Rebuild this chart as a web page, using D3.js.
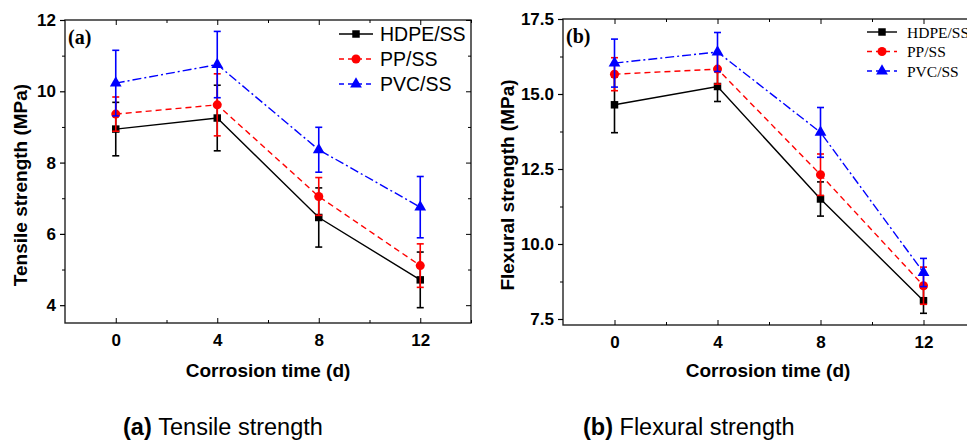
<!DOCTYPE html>
<html>
<head>
<meta charset="utf-8">
<script src="https://cdn.jsdelivr.net/npm/d3@7"></script>
<style>
  body { margin: 0; background: #fff; }
  svg { display: block; font-family: Arial, "Liberation Sans", sans-serif; }
</style>
</head>
<body>
<div id="chart"></div>
<script>
'use strict';

// corrosion time (d)
const days = [0, 4, 8, 12];
const seriesNames = ["HDPE/SS", "PP/SS", "PVC/SS"];

// (a) tensile strength, MPa
const tensileHDPE = [8.94, 9.25, 6.46, 4.71];
const tensileHDPEErr = [0.75, 0.92, 0.83, 0.78];
const tensilePP = [9.36, 9.62, 7.05, 5.11];
const tensilePPErr = [0.48, 0.87, 0.53, 0.61];
const tensilePVC = [10.23, 10.75, 8.36, 6.75];
const tensilePVCErr = [0.92, 0.93, 0.63, 0.86];

// (b) flexural strength, MPa
const flexHDPE = [14.64, 15.25, 11.50, 8.11];
const flexHDPEErr = [0.93, 0.50, 0.57, 0.42];
const flexPP = [15.66, 15.83, 12.31, 8.61];
const flexPPErr = [0.55, 0.50, 0.69, 0.62];
const flexPVC = [16.03, 16.40, 13.72, 9.05];
const flexPVCErr = [0.80, 0.65, 0.83, 0.47];

const xMajor = [0, 4, 8, 12];
const xMinor = [2, 6, 10, 14];
const tensileMajor = [4, 6, 8, 10, 12];
const tensileMinor = [5, 7, 9, 11];
const flexMajor = [7.5, 10, 12.5, 15, 17.5];
const flexMinor = [8.75, 11.25, 13.75, 16.25];

const SANS = "Arial, 'Liberation Sans', sans-serif";
const SERIF = "'Times New Roman', 'Liberation Serif', serif";

const styles = [
    {color: "#000000", dash: null, marker: "square"},
    {color: "#ff0000", dash: "6,4", marker: "circle"},
    {color: "#0000ff", dash: "9,3,2,3", marker: "triangle"}
];

const svg = d3.select("#chart").append("svg")
    .attr("width", 967).attr("height", 440);
svg.append("rect").attr("width", 967).attr("height", 440).attr("fill", "#fff");

function markerPath(kind) {
    if (kind === "square") return d3.symbol(d3.symbolSquare, 56)();
    if (kind === "circle") return d3.symbol(d3.symbolCircle, 64)();
    return d3.symbol(d3.symbolTriangle, 60)();
}

function drawPanel(cfg) {
    const x = d3.scaleLinear().domain([-2, 14]).range(cfg.xRange);
    const y = d3.scaleLinear().domain(cfg.yDomain).range(cfg.yRange);
    const g = svg.append("g");
    const [x0, x1] = cfg.xRange;
    const [y0, y1] = cfg.yRange;

    // frame
    g.append("rect")
        .attr("x", x0).attr("y", y1)
        .attr("width", x1 - x0).attr("height", y0 - y1)
        .attr("fill", "none").attr("stroke", "#222").attr("stroke-width", 1.4);

    // left axis, ticks outside
    const left = g.append("g").attr("transform", `translate(${x0},0)`)
        .call(d3.axisLeft(y).tickValues(cfg.yMajor).tickSize(5).tickPadding(4)
            .tickFormat(cfg.yFormat));
    left.select(".domain").remove();
    left.selectAll("text").attr("font-family", SANS).attr("font-size", 17).attr("font-weight", "bold");
    left.selectAll("line").attr("stroke-width", 1.2);
    g.append("g").attr("transform", `translate(${x0},0)`)
        .call(d3.axisLeft(y).tickValues(cfg.yMinor).tickSize(3).tickFormat(""))
        .call(s => s.select(".domain").remove());

    // right side, ticks inside
    g.append("g").attr("transform", `translate(${x1},0)`)
        .call(d3.axisLeft(y).tickValues(cfg.yMajor).tickSize(5).tickFormat(""))
        .call(s => s.select(".domain").remove());
    g.append("g").attr("transform", `translate(${x1},0)`)
        .call(d3.axisLeft(y).tickValues(cfg.yMinor).tickSize(3).tickFormat(""))
        .call(s => s.select(".domain").remove());

    // bottom axis, ticks inside
    const bottom = g.append("g").attr("transform", `translate(0,${y0})`)
        .call(d3.axisBottom(x).tickValues(xMajor).tickSize(-5).tickPadding(11));
    bottom.select(".domain").remove();
    bottom.selectAll("text").attr("font-family", SANS).attr("font-size", 17).attr("font-weight", "bold");
    g.append("g").attr("transform", `translate(0,${y0})`)
        .call(d3.axisBottom(x).tickValues(xMinor).tickSize(-3).tickFormat(""))
        .call(s => s.select(".domain").remove());

    // top side, ticks inside
    g.append("g").attr("transform", `translate(0,${y1})`)
        .call(d3.axisBottom(x).tickValues(xMajor).tickSize(5).tickFormat(""))
        .call(s => s.select(".domain").remove());
    g.append("g").attr("transform", `translate(0,${y1})`)
        .call(d3.axisBottom(x).tickValues(xMinor).tickSize(3).tickFormat(""))
        .call(s => s.select(".domain").remove());

    // axis titles
    g.append("text")
        .attr("x", cfg.xTitleX).attr("y", 377)
        .attr("text-anchor", "middle").attr("font-size", 19).attr("font-weight", "bold")
        .text("Corrosion time (d)");
    g.append("text")
        .attr("transform", `translate(${cfg.yTitleX},${cfg.yTitleY}) rotate(-90)`)
        .attr("text-anchor", "middle").attr("font-size", 19).attr("font-weight", "bold")
        .text(cfg.yTitle);

    // panel tag
    g.append("text")
        .attr("x", x0 + 3).attr("y", y1 + 24)
        .attr("font-family", SERIF)
        .attr("font-size", 20).attr("font-weight", "bold")
        .text(cfg.tag);

    // series
    const line = d3.line().x(d => x(d.t)).y(d => y(d.v));
    cfg.series.forEach((s, i) => {
        const st = styles[i];
        const pts = days.map((t, k) => ({t, v: s.values[k], e: s.errors[k]}));
        const sg = g.append("g");
        sg.append("path").datum(pts)
            .attr("d", line).attr("fill", "none")
            .attr("stroke", st.color).attr("stroke-width", 1.4)
            .attr("stroke-dasharray", st.dash);
        sg.selectAll(".marker").data(pts).enter().append("path")
            .attr("class", "marker")
            .attr("transform", d => `translate(${x(d.t)},${y(d.v)})`)
            .attr("d", markerPath(st.marker))
            .attr("fill", st.color);
        const eb = sg.selectAll(".err").data(pts).enter().append("g")
            .attr("stroke", st.color).attr("stroke-width", 1.6);
        eb.append("line")
            .attr("x1", d => x(d.t)).attr("x2", d => x(d.t))
            .attr("y1", d => y(d.v - d.e)).attr("y2", d => y(d.v + d.e));
        eb.append("line")
            .attr("x1", d => x(d.t) - 3.5).attr("x2", d => x(d.t) + 3.5)
            .attr("y1", d => y(d.v + d.e)).attr("y2", d => y(d.v + d.e));
        eb.append("line")
            .attr("x1", d => x(d.t) - 3.5).attr("x2", d => x(d.t) + 3.5)
            .attr("y1", d => y(d.v - d.e)).attr("y2", d => y(d.v - d.e));
    });

    // legend
    const lg = g.append("g");
    seriesNames.forEach((name, i) => {
        const st = styles[i];
        const ly = cfg.legend.y + i * cfg.legend.step;
        const lx = cfg.legend.x;
        lg.append("line")
            .attr("x1", lx).attr("x2", lx + cfg.legend.len)
            .attr("y1", ly).attr("y2", ly)
            .attr("stroke", st.color).attr("stroke-width", 1.4)
            .attr("stroke-dasharray", st.dash ? "5,4" : null);
        lg.append("path")
            .attr("transform", `translate(${lx + cfg.legend.len / 2},${ly})`)
            .attr("d", markerPath(st.marker)).attr("fill", st.color);
        lg.append("text")
            .attr("x", lx + cfg.legend.len + cfg.legend.gap).attr("y", ly)
            .attr("dy", "0.36em")
            .attr("font-family", cfg.legend.font)
            .attr("font-size", cfg.legend.size)
            .text(name);
    });

    // caption
    const cap = svg.append("text")
        .attr("x", cfg.captionX).attr("y", 435)
        .attr("font-family", SANS)
        .attr("font-size", 23.5);
    cap.append("tspan").attr("font-weight", "bold").text(cfg.tag + " ");
    cap.append("tspan").text(cfg.caption);
}

drawPanel({
    xRange: [65, 471], yRange: [323, 20], yDomain: [3.5, 12],
    yMajor: tensileMajor, yMinor: tensileMinor, yFormat: d3.format("d"),
    yTitle: "Tensile strength (MPa)", yTitleX: 27, yTitleY: 185, xTitleX: 268,
    tag: "(a)", caption: "Tensile strength", captionX: 123,
    legend: {x: 339, y: 34, step: 25, len: 34, gap: 7, size: 19.5, font: SANS},
    series: [
        {values: tensileHDPE, errors: tensileHDPEErr},
        {values: tensilePP, errors: tensilePPErr},
        {values: tensilePVC, errors: tensilePVCErr}
    ]
});

drawPanel({
    xRange: [563, 975], yRange: [325, 19], yDomain: [7.3, 17.5],
    yMajor: flexMajor, yMinor: flexMinor, yFormat: d3.format(".1f"),
    yTitle: "Flexural strength (MPa)", yTitleX: 514, yTitleY: 185, xTitleX: 768,
    tag: "(b)", caption: "Flexural strength", captionX: 583,
    legend: {x: 867, y: 32, step: 19.5, len: 30, gap: 10, size: 15.5, font: SERIF},
    series: [
        {values: flexHDPE, errors: flexHDPEErr},
        {values: flexPP, errors: flexPPErr},
        {values: flexPVC, errors: flexPVCErr}
    ]
});
</script>
</body>
</html>
